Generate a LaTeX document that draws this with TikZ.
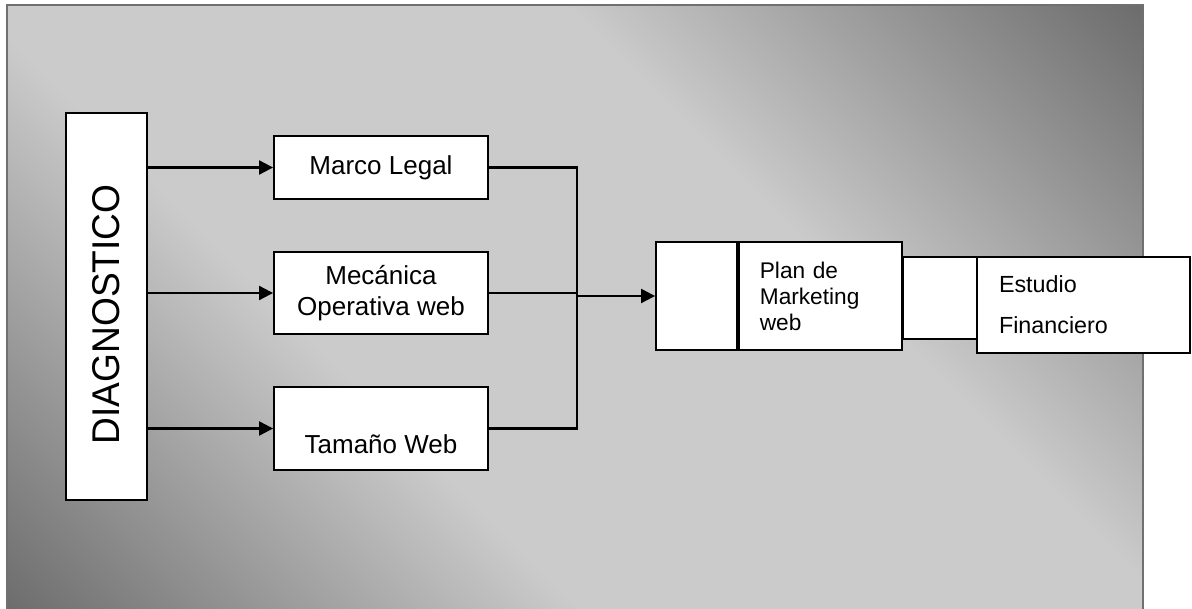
\documentclass[tikz,border=0pt]{standalone}
\usepackage{fontspec}
\setmainfont{Liberation Sans}
\newfontfamily\diagfont[FakeStretch=0.96]{Liberation Sans}
\usepackage{tikz}
\usetikzlibrary{arrows.meta}
\definecolor{bgdark}{HTML}{6A6A6A}
\definecolor{bglight}{HTML}{CBCBCB}
\definecolor{bgedge}{HTML}{707070}
\pgfdeclareverticalshading{bgshade}{100bp}{color(0bp)=(bgdark); color(14bp)=(bgdark); color(38bp)=(bglight); color(62bp)=(bglight); color(86bp)=(bgdark); color(100bp)=(bgdark)}
\begin{document}
\begin{tikzpicture}
[x=0.75pt,y=-0.75pt
,box/.style={draw,fill=white,line width=1.4pt,inner sep=0pt,align=center,font=\fontsize{19.5}{23}\selectfont}
,sidebox/.style={box,align=left,font=\fontsize{17}{19.5}\selectfont}
,wire/.style={line width=1.6pt}
,arr/.style={wire,arrows={-Triangle[length=10.5pt,width=10.5pt]}}]
\useasboundingbox (0,0) rectangle (1192,609);
\shadedraw[shading=bgshade,shading angle=-45,draw=bgedge,line width=1.5pt] (7,5) rectangle (1143,614);
\node[box,rotate=90,minimum width=290.25pt,minimum height=60.75pt,font=\diagfont\fontsize{29}{34}\selectfont] (diag) at (106.5,306.5) {DIAGNOSTICO\hspace*{12pt}};
\node[box,minimum width=160.5pt,minimum height=47.25pt] (legal) at (381,167.5) {Marco Legal};
\node[box,minimum width=160.5pt,minimum height=61.5pt] (mec) at (381,293) {Mecánica\\Operativa web};
\node[box,minimum width=160.5pt,text height=49.5pt,text depth=12.75pt] (tam) at (381,428.5) {Tamaño Web};
\node[box,minimum width=60.75pt,minimum height=81pt] (planl) at (696.5,296) {};
\node[sidebox,anchor=west,minimum height=81pt,text width=90.75pt,inner xsep=15.75pt] (plan) at (planl.east) {Plan de\\Marketing\\web};
\node[box,minimum width=55.5pt,minimum height=61.5pt] (back) at (940,298) {};
\node[sidebox,minimum height=72pt,text width=126.75pt,inner xsep=16.5pt,font=\fontsize{17.5}{30.75}\selectfont] (estudio) at (1083.5,305) {Estudio\\Financiero};
\coordinate (join) at (577,296);
\draw[arr] (diag.south |- legal.west) -- (legal.west);
\draw[arr] (diag.south |- mec.west) -- (mec.west);
\draw[arr] (diag.south |- tam.west) -- (tam.west);
\draw[wire] (legal.east) -| (join) |- (tam.east);
\draw[wire] (mec.east) -- (mec.east -| join);
\draw[arr] (join) -- (planl.west);
\draw[wire] (plan.east) -- (back.west);
\end{tikzpicture}
\end{document}
